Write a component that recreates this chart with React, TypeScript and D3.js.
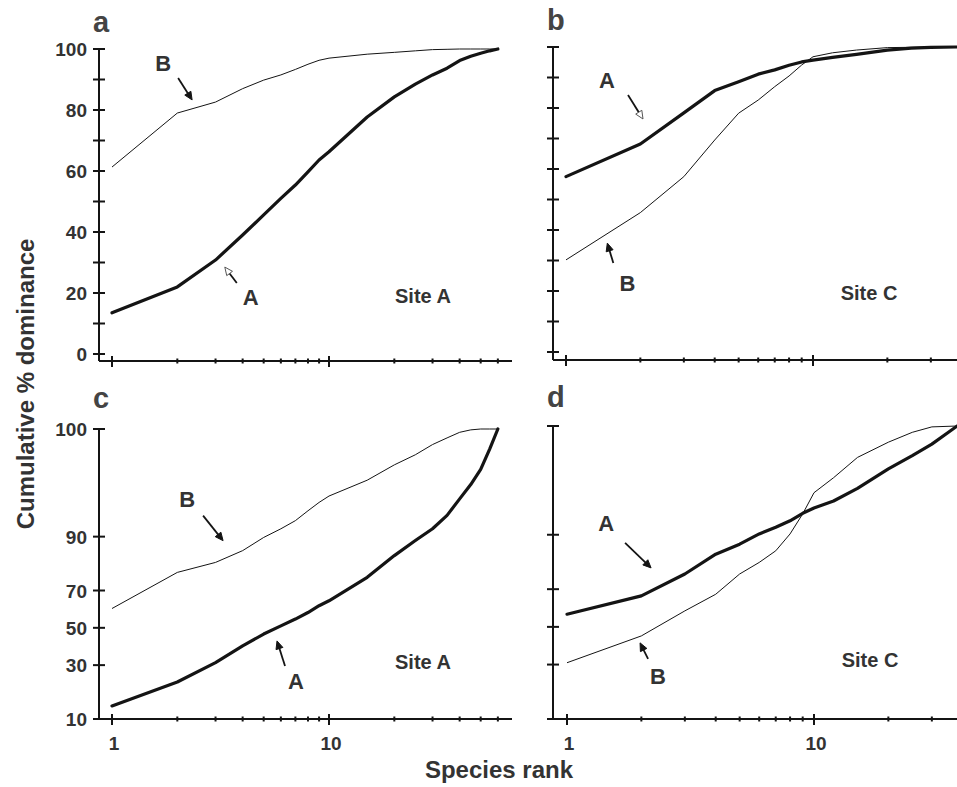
import React from 'react';
import * as d3 from 'd3';

const W = 957;
const H = 787;

// ---------- data ----------
const siteARanks = [1, 2, 3, 4, 5, 6, 7, 8, 9, 10, 15, 20, 25, 30, 35, 40, 45, 50, 55, 60];
const panelA_seriesA = [13.5, 22, 30.8, 39, 45.6, 51, 55.4, 59.7, 63.6, 66.3, 77.7, 84.3, 88.5, 91.5, 93.7, 96.2, 97.6, 98.6, 99.4, 100];
const panelA_seriesB = [61.3, 79, 82.6, 87, 89.8, 91.5, 93.3, 95, 96.3, 97, 98.3, 98.9, 99.4, 99.8, 99.9, 100, 100, 100, 100, 100];
const panelC_seriesA = [13.6, 22.3, 31.2, 40, 46.5, 51.1, 54.9, 58.5, 62.2, 64.8, 76.1, 84.5, 89, 91.8, 94.3, 96.5, 97.8, 98.7, 99.4, 99.74];
const panelC_seriesB = [60.7, 78.2, 82.1, 86.1, 89.8, 91.8, 93.4, 95, 96.1, 96.8, 98.1, 98.9, 99.25, 99.5, 99.62, 99.7, 99.73, 99.74, 99.74, 99.74];

const siteCRanks = [1, 2, 3, 4, 5, 6, 7, 8, 9, 10, 12, 15, 20, 25, 30, 38];
const panelB_seriesA = [57.5, 68.2, 78.4, 85.7, 88.6, 91.1, 92.5, 94, 95.1, 95.7, 96.6, 97.6, 99.0, 99.6, 99.9, 100];
const panelB_seriesB = [30.2, 45.7, 57.5, 69.5, 78.3, 82.6, 87, 90.5, 94.1, 96.8, 98.1, 99, 99.8, 99.9, 100, 100];
const panelD_seriesA = [57, 66.7, 76.9, 84.4, 87.5, 90.2, 91.7, 93, 94.3, 95.1, 96.0, 97.3, 98.6, 99.14, 99.45, 99.74];
const panelD_seriesB = [30.9, 45, 58.8, 67.5, 76.9, 81.5, 85.5, 90.2, 94.2, 96.9, 98.1, 99.08, 99.49, 99.66, 99.73, 99.74];

const linearMajorTicks = [0, 20, 40, 60, 80, 100];
const linearMinorTicks = [10, 30, 50, 70, 90];
const probitTicks = [10, 30, 50, 70, 90, 100];
const probitTickLabels = ['10', '30', '50', '70', '90', '100'];
const xMajorTicks = [1, 10];
const xMinorTicks = [2, 3, 4, 5, 6, 7, 8, 9, 20, 30, 40, 50, 60, 70, 80, 90];

const PROBIT_TOP = 99.74; // the "100" level on the probability axis

// inverse normal CDF (Acklam)
function probit(p: number): number {
  const a = [-3.969683028665376e1, 2.209460984245205e2, -2.759285104469687e2, 1.38357751867269e2, -3.066479806614716e1, 2.506628277459239];
  const b = [-5.447609879822406e1, 1.615858368580409e2, -1.556989798598866e2, 6.680131188771972e1, -1.328068155288572e1];
  const c = [-7.784894002430293e-3, -3.223964580411365e-1, -2.400758277161838, -2.549732539343734, 4.374664141464968, 2.938163982698783];
  const d = [7.784695709041462e-3, 3.224671290700398e-1, 2.445134137142996, 3.754408661907416];
  const pl = 0.02425;
  if (p < pl) {
    const q = Math.sqrt(-2 * Math.log(p));
    return (((((c[0] * q + c[1]) * q + c[2]) * q + c[3]) * q + c[4]) * q + c[5]) / ((((d[0] * q + d[1]) * q + d[2]) * q + d[3]) * q + 1);
  }
  if (p <= 1 - pl) {
    const q = p - 0.5;
    const r = q * q;
    return ((((((a[0] * r + a[1]) * r + a[2]) * r + a[3]) * r + a[4]) * r + a[5]) * q) / (((((b[0] * r + b[1]) * r + b[2]) * r + b[3]) * r + b[4]) * r + 1);
  }
  const q = Math.sqrt(-2 * Math.log(1 - p));
  return -(((((c[0] * q + c[1]) * q + c[2]) * q + c[3]) * q + c[4]) * q + c[5]) / ((((d[0] * q + d[1]) * q + d[2]) * q + d[3]) * q + 1);
}
const pz = (v: number) => probit(Math.min(v, PROBIT_TOP) / 100);

type Ann = { text: string; r: number; v: number; tail: [number, number]; label: [number, number]; hollow: boolean };

type Panel = {
  key: string;
  letter: string;
  letterPos: [number, number];
  site: string;
  sitePos: [number, number];
  axisX: number;
  xr: [number, number];
  xEnd: number;
  xAxisY: number;
  probitY: boolean;
  yr: [number, number];
  ranks: number[];
  sA: number[];
  sB: number[];
  yLabels: boolean;
  xLabels: boolean;
  anns: Ann[];
};

const panels: Panel[] = [
  {
    key: 'a', letter: 'a', letterPos: [93, 32], site: 'Site A', sitePos: [423, 303],
    axisX: 99, xr: [112, 329], xEnd: 512, xAxisY: 361, probitY: false, yr: [354, 49],
    ranks: siteARanks, sA: panelA_seriesA, sB: panelA_seriesB, yLabels: true, xLabels: false,
    anns: [
      { text: 'B', r: 2.34, v: 83.3, tail: [-14, -22], label: [-29, -37], hollow: false },
      { text: 'A', r: 3.31, v: 28.5, tail: [12, 16], label: [26, 30], hollow: true },
    ],
  },
  {
    key: 'b', letter: 'b', letterPos: [547, 30], site: 'Site C', sitePos: [869, 300],
    axisX: 553, xr: [566, 813], xEnd: 990, xAxisY: 360, probitY: false, yr: [352, 47],
    ranks: siteCRanks, sA: panelB_seriesA, sB: panelB_seriesB, yLabels: false, xLabels: false,
    anns: [
      { text: 'A', r: 2.05, v: 76.4, tail: [-15, -24], label: [-36, -39], hollow: true },
      { text: 'B', r: 1.47, v: 35.7, tail: [6, 20], label: [20, 40], hollow: false },
    ],
  },
  {
    key: 'c', letter: 'c', letterPos: [93, 408], site: 'Site A', sitePos: [423, 669],
    axisX: 99, xr: [112, 329], xEnd: 512, xAxisY: 719, probitY: true, yr: [719, 429],
    ranks: siteARanks, sA: panelC_seriesA, sB: panelC_seriesB, yLabels: true, xLabels: true,
    anns: [
      { text: 'B', r: 3.25, v: 88.97, tail: [-20, -25], label: [-36, -42], hollow: false },
      { text: 'A', r: 5.76, v: 42.7, tail: [8, 25], label: [19, 40], hollow: false },
    ],
  },
  {
    key: 'd', letter: 'd', letterPos: [547, 407], site: 'Site C', sitePos: [870, 667],
    axisX: 553, xr: [567, 814], xEnd: 990, xAxisY: 719, probitY: true, yr: [719, 426],
    ranks: siteCRanks, sA: panelD_seriesA, sB: panelD_seriesB, yLabels: false, xLabels: true,
    anns: [
      { text: 'A', r: 2.19, v: 79.4, tail: [-26, -25], label: [-45, -45], hollow: false },
      { text: 'B', r: 1.976, v: 41.2, tail: [8, 16], label: [18, 33], hollow: false },
    ],
  },
];

const FONT = "'Liberation Sans', Arial, Helvetica, sans-serif";
const TEXT = '#333';
const INK = '#141414';

function PanelView({ p }: { p: Panel }) {
  const x = d3.scaleLog().domain([1, 10]).range(p.xr);
  const xMin = x.invert(p.axisX);
  const xMax = x.invert(p.xEnd);
  const yLin = d3.scaleLinear().domain([0, 100]).range(p.yr);
  const yPro = d3.scaleLinear().domain([pz(10), pz(100)]).range(p.yr);
  const y = (v: number) => (p.probitY ? yPro(pz(v)) : yLin(v));
  const yTop = p.yr[1];

  const line = d3
    .line<number>()
    .x((_, i) => x(p.ranks[i]))
    .y((v) => y(v))
    .curve(d3.curveLinear);

  const yTickVals = p.probitY ? probitTicks : [...linearMajorTicks, ...linearMinorTicks];
  const yLabelVals = p.probitY ? probitTicks : linearMajorTicks;

  return (
    <g>
      <text x={p.letterPos[0]} y={p.letterPos[1]} fontSize={29} fontWeight="bold" fill="#444" fontFamily={FONT}>
        {p.letter}
      </text>
      <line x1={p.axisX} x2={p.axisX} y1={yTop} y2={p.xAxisY} stroke={INK} strokeWidth={2} />
      {yTickVals.map((t) => (
        <line key={'yt' + t} x1={p.axisX - 6} x2={p.axisX + 6} y1={y(t)} y2={y(t)} stroke={INK} strokeWidth={2} />
      ))}
      {p.yLabels &&
        yLabelVals.map((t, i) => (
          <text key={'yl' + t} x={p.axisX - 12} y={y(t) + 7} textAnchor="end" fontSize={19} fontWeight="bold" fill={TEXT} fontFamily={FONT}>
            {p.probitY ? probitTickLabels[i] : String(t)}
          </text>
        ))}
      <line x1={p.axisX} x2={p.xEnd} y1={p.xAxisY} y2={p.xAxisY} stroke={INK} strokeWidth={2} />
      {xMajorTicks.filter((t) => t >= xMin && t <= xMax).map((t) => (
        <line key={'xM' + t} x1={x(t)} x2={x(t)} y1={p.xAxisY - 5} y2={p.xAxisY + 6} stroke={INK} strokeWidth={2} />
      ))}
      {xMinorTicks.filter((t) => t >= xMin && t <= xMax).map((t) => (
        <line key={'xm' + t} x1={x(t)} x2={x(t)} y1={p.xAxisY - 2.5} y2={p.xAxisY + 2.5} stroke={INK} strokeWidth={2} />
      ))}
      {p.xLabels &&
        xMajorTicks.map((t) => (
          <text key={'xl' + t} x={x(t) + 2} y={p.xAxisY + 31} textAnchor="middle" fontSize={19} fontWeight="bold" fill={TEXT} fontFamily={FONT}>
            {String(t)}
          </text>
        ))}
      <path d={line(p.sB) || ''} fill="none" stroke={INK} strokeWidth={1} strokeLinejoin="round" />
      <path d={line(p.sA) || ''} fill="none" stroke={INK} strokeWidth={3.2} strokeLinejoin="round" strokeLinecap="round" />
      <text x={p.sitePos[0]} y={p.sitePos[1]} textAnchor="middle" fontSize={20} fontWeight="bold" fill={TEXT} fontFamily={FONT}>
        {p.site}
      </text>
      {p.anns.map((a, i) => {
        const tx = x(a.r);
        const ty = y(a.v);
        const sx = tx + a.tail[0];
        const sy = ty + a.tail[1];
        const len = Math.hypot(tx - sx, ty - sy);
        const ux = (tx - sx) / len;
        const uy = (ty - sy) / len;
        const L = 8;
        const Wd = 3.6;
        const bx = tx - ux * L;
        const by = ty - uy * L;
        const pts = `${tx},${ty} ${bx - uy * Wd},${by + ux * Wd} ${bx + uy * Wd},${by - ux * Wd}`;
        return (
          <g key={'ann' + i}>
            <line x1={sx} y1={sy} x2={a.hollow ? bx : tx - ux * 3} y2={a.hollow ? by : ty - uy * 3} stroke={INK} strokeWidth={1.8} />
            <polygon points={pts} fill={a.hollow ? '#fff' : INK} stroke={a.hollow ? '#555' : INK} strokeWidth={1} />
            <text x={tx + a.label[0]} y={ty + a.label[1] + 8} textAnchor="middle" fontSize={22} fontWeight="bold" fill={TEXT} fontFamily={FONT}>
              {a.text}
            </text>
          </g>
        );
      })}
    </g>
  );
}

export default function App() {
  return (
    <svg width={W} height={H} viewBox={`0 0 ${W} ${H}`} style={{ position: 'absolute', left: 0, top: 0, background: '#fff' }}>
      <rect x={0} y={0} width={W} height={H} fill="#fff" />
      {panels.map((p) => (
        <PanelView key={p.key} p={p} />
      ))}
      <text transform="translate(34,384) rotate(-90)" textAnchor="middle" fontSize={24} fontWeight="bold" fill={TEXT} fontFamily={FONT}>
        Cumulative % dominance
      </text>
      <text x={499} y={778} textAnchor="middle" fontSize={24} fontWeight="bold" fill={TEXT} fontFamily={FONT}>
        Species rank
      </text>
    </svg>
  );
}
